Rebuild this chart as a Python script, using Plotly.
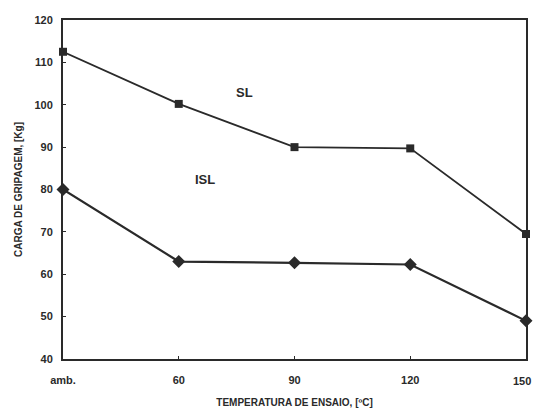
import plotly.graph_objects as go

categories = ["amb.", "60", "90", "120", "150"]
sl_values = [112.5, 100.2, 90.0, 89.7, 69.5]
isl_values = [80.0, 63.0, 62.7, 62.3, 49.0]
y_ticks = [40, 50, 60, 70, 80, 90, 100, 110, 120]

x_idx = list(range(len(categories)))
ink = "#2a2a2a"

fig = go.Figure()
fig.add_trace(go.Scatter(x=x_idx, y=sl_values, mode="lines+markers", name="SL",
                         line=dict(color=ink, width=1.8),
                         marker=dict(symbol="square", size=8, color=ink),
                         cliponaxis=False))
fig.add_trace(go.Scatter(x=x_idx, y=isl_values, mode="lines+markers", name="ISL",
                         line=dict(color=ink, width=2.2),
                         marker=dict(symbol="diamond", size=10, color=ink),
                         cliponaxis=False))

fig.add_annotation(x=1.57, y=102.8, text="<b>SL</b>", showarrow=False,
                   font=dict(family="Liberation Sans", size=13, color=ink))
fig.add_annotation(x=1.23, y=82.3, text="<b>ISL</b>", showarrow=False,
                   font=dict(family="Liberation Sans", size=13, color=ink))

# last category label drawn as annotation so it stays inside the page
fig.add_annotation(x=x_idx[-1], xref="x", y=0, yref="paper",
                   xanchor="right", yanchor="top", xshift=7, yshift=-14,
                   text="<b>" + categories[-1] + "</b>", showarrow=False,
                   font=dict(family="Liberation Sans", size=11, color=ink))

tick_text = categories[:-1] + [""]

fig.update_layout(
    width=534, height=408,
    margin=dict(l=63, r=8, t=20, b=49, autoexpand=False),
    paper_bgcolor="white", plot_bgcolor="white",
    showlegend=False,
    font=dict(family="Liberation Sans", color=ink),
)
fig.update_xaxes(range=[0, 4], tickvals=x_idx, ticktext=tick_text,
                 automargin=False,
                 showgrid=False, zeroline=False, showline=True, linecolor=ink,
                 linewidth=2, mirror=True, ticks="inside", ticklen=3,
                 tickcolor=ink, ticklabelstandoff=10,
                 tickfont=dict(size=11, color=ink, weight="bold"),
                 title=dict(text="<b>TEMPERATURA DE ENSAIO, [ºC]</b>",
                            font=dict(size=10, color=ink), standoff=20))
fig.update_yaxes(range=[40, 120], tickvals=y_ticks,
                 automargin=False,
                 showgrid=False, zeroline=False, showline=True, linecolor=ink,
                 linewidth=2, mirror=True, ticks="inside", ticklen=3,
                 tickcolor=ink, ticklabelstandoff=6,
                 tickfont=dict(size=11, color=ink, weight="bold"),
                 title=dict(text="<b>CARGA DE GRIPAGEM, [Kg]</b>",
                            font=dict(size=10, color=ink), standoff=10))

fig.write_html("out.html")
